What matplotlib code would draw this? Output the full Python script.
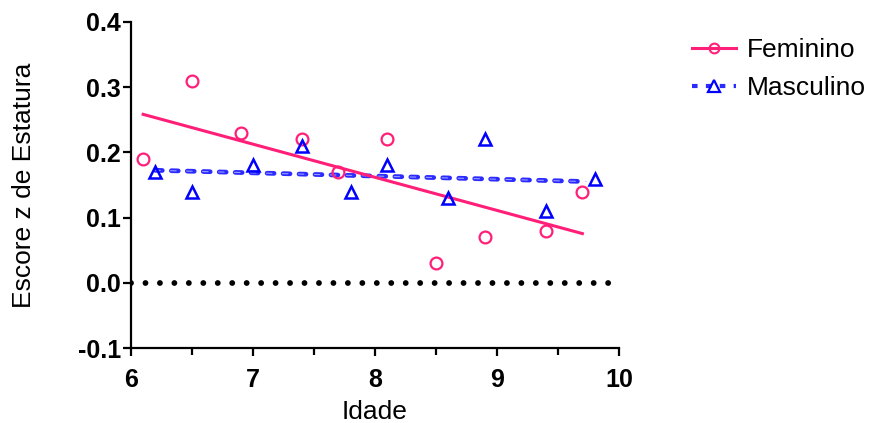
import numpy as np
import matplotlib
matplotlib.use("Agg")
import matplotlib.pyplot as plt
from matplotlib.lines import Line2D

plt.rcParams['font.family'] = ['Liberation Sans', 'DejaVu Sans']
plt.rcParams['lines.scale_dashes'] = False

# Dados
idade_fem = [6.1, 6.5, 6.9, 7.4, 7.7, 8.1, 8.5, 8.9, 9.4, 9.7]
z_fem = [0.19, 0.31, 0.23, 0.22, 0.17, 0.22, 0.03, 0.07, 0.08, 0.14]
idade_masc = [6.2, 6.5, 7.0, 7.4, 7.8, 8.1, 8.6, 8.9, 9.4, 9.8]
z_masc = [0.17, 0.14, 0.18, 0.21, 0.14, 0.18, 0.13, 0.22, 0.11, 0.16]

x_ticks = [6, 7, 8, 9, 10]
y_ticks = [-0.1, 0.0, 0.1, 0.2, 0.3, 0.4]

cor_fem = '#ff1f78'
cor_masc = '#0000ff'

fig = plt.figure(figsize=(8.73, 4.23), dpi=100)
ax = fig.add_axes([0.150, 0.177, 0.559, 0.771])

# linha de referência em zero
ax.plot([6.0, 10.0], [0, 0], color='black', lw=4.2,
        linestyle=(0, (0.01, 10.4)), dash_capstyle='round', zorder=1)

# regressões lineares
a_f, b_f = np.polyfit(idade_fem, z_fem, 1)
xf = np.array([min(idade_fem), max(idade_fem)])
ax.plot(xf, a_f * xf + b_f, color=cor_fem, lw=2.2, zorder=3)

a_m, b_m = np.polyfit(idade_masc, z_masc, 1)
xm = np.array([min(idade_masc), max(idade_masc) - 0.07])
ax.plot(xm, a_m * xm + b_m, color='#2b2bff', lw=3.4,
        linestyle=(0, (5, 6.5)), dash_capstyle='round', zorder=2)
ax.plot(xm, a_m * xm + b_m, color='#9a9aff', lw=0.8,
        linestyle=(0.5, (4, 7.5)), dash_capstyle='round', zorder=2)

# pontos
ax.plot(idade_fem, z_fem, 'o', ms=8.5, mfc='none', mec=cor_fem, mew=1.6, zorder=4)
ax.plot(idade_masc, z_masc, '^', ms=9, mfc='none', mec=cor_masc, mew=1.8, zorder=4)

ax.set_xlim(6, 10)
ax.set_ylim(-0.1, 0.4)
ax.set_xticks(x_ticks)
ax.set_xticks(np.arange(6.5, 10, 1), minor=True)
ax.set_yticks(y_ticks)
ax.set_yticklabels([f'{v:.1f}' for v in y_ticks])

for s in ['top', 'right']:
    ax.spines[s].set_visible(False)
for s in ['left', 'bottom']:
    ax.spines[s].set_linewidth(1.6)

ax.tick_params(axis='both', which='major', length=6, width=1.6, labelsize=18)
ax.tick_params(axis='x', which='major', pad=8)
ax.tick_params(axis='y', which='major', pad=1)
ax.tick_params(axis='x', which='minor', length=5, width=1.6)
for lbl in ax.get_xticklabels() + ax.get_yticklabels():
    lbl.set_fontweight('bold')

ax.set_xlabel('Idade', fontsize=19, labelpad=6)
ax.set_ylabel('Escore z de Estatura', fontsize=19, labelpad=30)

# legenda
h_fem = Line2D([], [], color=cor_fem, lw=2.2, marker='o', ms=7, mfc='none',
               mec=cor_fem, mew=1.5)
h_masc = Line2D([], [], color='#2b2bff', lw=3, linestyle=(0, (4, 6)),
                marker='^', ms=8, mfc='none', mec=cor_masc, mew=1.6)
fig.legend([h_fem, h_masc], ['Feminino', 'Masculino'], loc='upper left',
           bbox_to_anchor=(0.766, 0.9655), frameon=False, fontsize=19,
           handlelength=1.65, handletextpad=0.4, labelspacing=0.52)

fig.savefig('out.png', dpi=100)
